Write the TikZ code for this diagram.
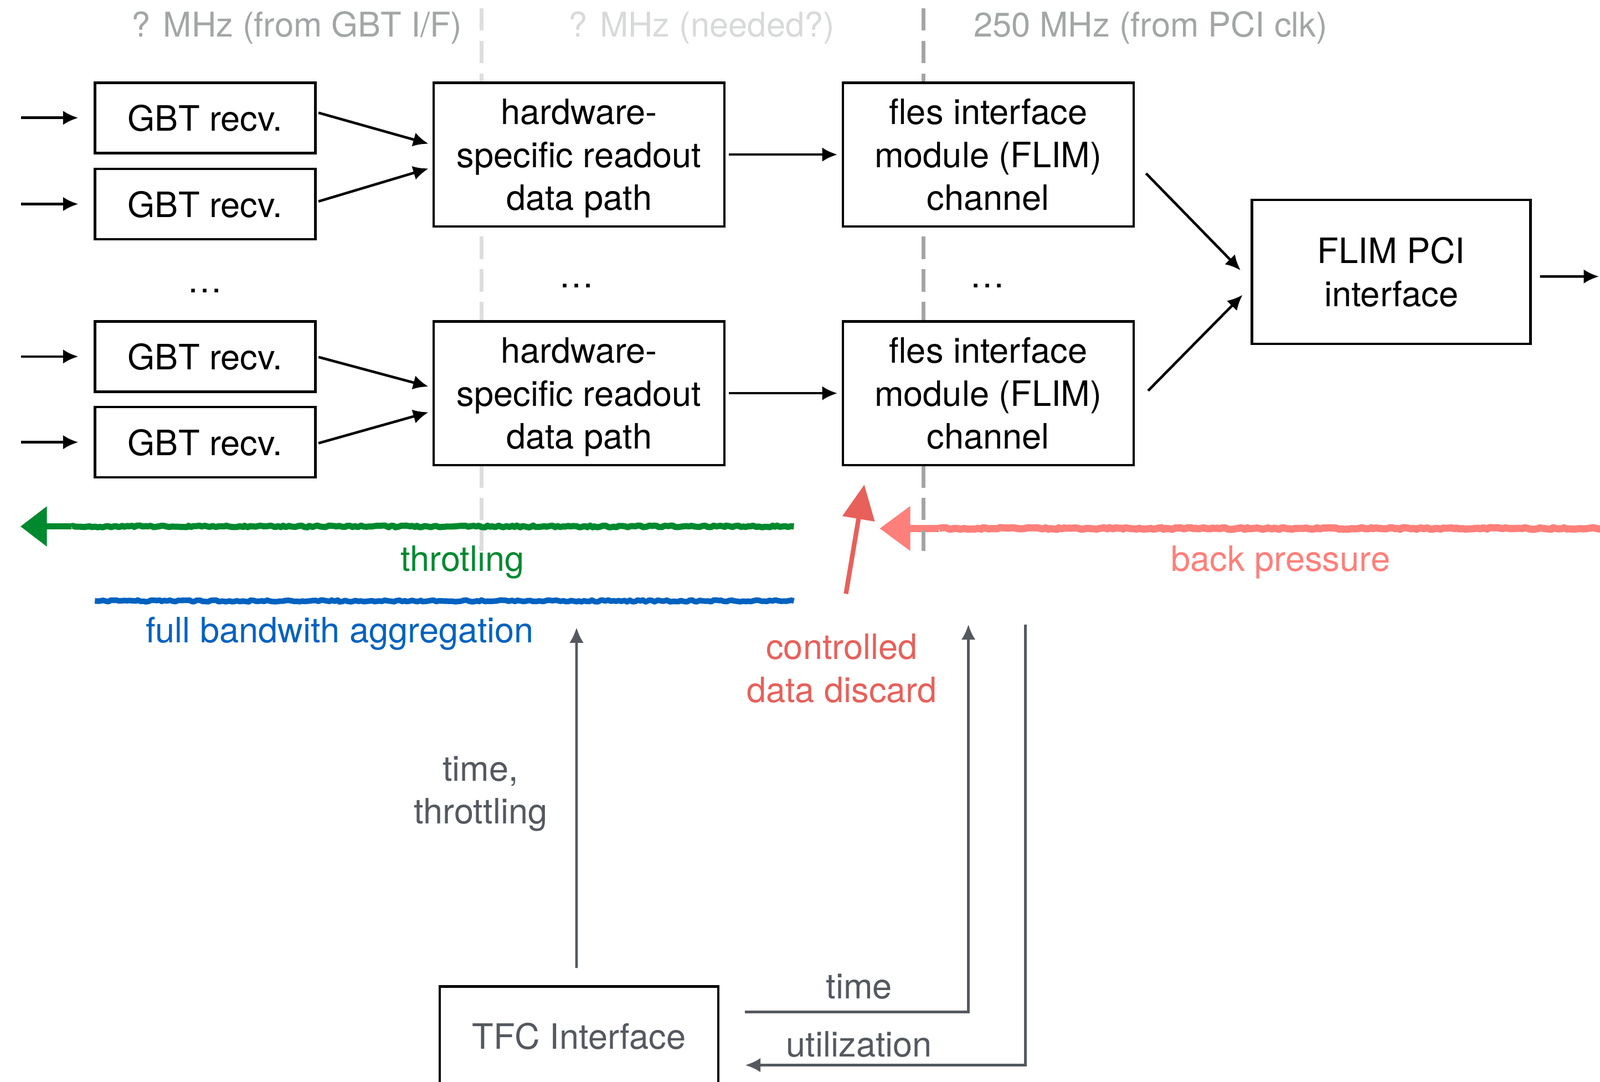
\documentclass[tikz,border=0pt]{standalone}
\usepackage{fontspec}
\setmainfont{TeX Gyre Heros}
\usepackage{tikz}
\usetikzlibrary{arrows,arrows.meta,positioning,decorations.pathmorphing}
\usepackage{xcolor}

\definecolor{clkgray}{RGB}{163,166,166}
\definecolor{clklight}{RGB}{216,218,218}
\definecolor{sepgray}{RGB}{165,165,165}
\definecolor{seplight}{RGB}{222,222,222}
\definecolor{thrgreen}{RGB}{0,137,47}
\definecolor{aggblue}{RGB}{0,98,192}
\definecolor{discred}{RGB}{232,96,90}
\definecolor{bpred}{RGB}{255,127,122}
\definecolor{tfcgray}{RGB}{85,89,95}

\begin{document}
\begin{tikzpicture}[x=0.02cm, y=-0.02cm, node distance = 2cm, auto,
    every node/.style={font=\fontsize{19.5}{23.9}\selectfont}]

    \tikzstyle{block} = [
        rectangle,
        draw,
        fill=white,
        line width=0.05cm,
        align=center,
        inner sep=0pt,
        text depth=-0.08cm,
        minimum width=5.7cm,
        minimum height=2.82cm,
    ]
    \tikzstyle{gbt} = [
        block,
        minimum width=4.32cm,
        minimum height=1.38cm,
    ]
    \tikzstyle{line} = [
        draw,
        line width=0.05cm,
        shorten <=0.04cm,
        shorten >=0.08cm,
        -{Latex[length=0.3cm,width=0.28cm]},
    ]
    \tikzstyle{tfcline} = [
        draw,
        tfcgray,
        line width=0.05cm,
        -{Latex[length=0.3cm,width=0.28cm]},
    ]
    \tikzstyle{clk} = [
        anchor=base,
        font=\fontsize{19}{23}\selectfont,
    ]
    \tikzstyle{clksep} = [
        line width=0.07cm,
        dash pattern=on 0.44cm off 0.2cm,
    ]
    \tikzstyle{crayon} = [
        line join=round,
        decorate,
        decoration={random steps, segment length=1.5pt, amplitude=0.5pt},
    ]
    \tikzstyle{lbl} = [
        anchor=base,
        align=center,
    ]

    \clip (0,0) rectangle (1568,1060);
    \fill[white] (0,0) rectangle (1568,1060);

    % clock domains
    \node[clk, text=clkgray]  (clkgbt)  at (291,36)    {? MHz (from GBT I/F)};
    \node[clk, text=clklight] (clkhw)   at (687.5,36)  {? MHz (needed?)};
    \node[clk, text=clkgray]  (clkpci)  at (1127.5,36) {250 MHz (from PCI clk)};

    % sketched feedback paths
    \coordinate (thrstart) at (778,516);
    \coordinate (thrtail)  at (70,516);
    \coordinate (thrend)   at (20,516);
    \draw[thrgreen, line width=0.12cm, crayon] (thrstart) -- (thrtail);
    \draw[thrgreen, line width=0.12cm, -{Triangle[length=0.52cm,width=0.76cm]}] (thrtail) -- (thrend);
    \node[lbl, text=thrgreen] (thr) at (453,560) {throtling};

    \coordinate (aggstart) at (93,589);
    \coordinate (aggend)   at (778,589);
    \draw[aggblue, line width=0.11cm, crayon] (aggstart) -- (aggend);
    \node[lbl, text=aggblue] (agg) at (333,630) {full bandwith aggregation};

    \coordinate (bpstart) at (1570,518);
    \coordinate (bptail)  at (920,518);
    \coordinate (bpend)   at (862,518);
    \draw[bpred, line width=0.14cm, crayon] (bpstart) -- (bptail);
    \draw[bpred, line width=0.14cm, -{Triangle[length=0.6cm,width=0.84cm]}] (bptail) -- (bpend);
    \node[lbl, text=bpred] (bp) at (1255,560) {back pressure};

    \coordinate (discstart) at (829,582);
    \coordinate (discend)   at (847,475);
    \draw[discred, line width=0.09cm, -{Triangle[length=0.68cm,width=0.62cm]}] (discstart) -- (discend);
    \node[text=discred, align=center] (disc) at (825,655) {controlled\\data discard};

    % clock domain borders
    \draw[clksep, seplight] (472,8) -- (472,540);
    \draw[clksep, sepgray]  (905,8) -- (905,540);

    \node [gbt]                                  (gbta) at (201,115.5) {GBT recv.};
    \node [gbt, below of=gbta, node distance=1.69cm] (gbtb) {GBT recv.};
    \node [gbt, below of=gbtb, node distance=2.99cm] (gbtc) {GBT recv.};
    \node [gbt, below of=gbtc, node distance=1.68cm] (gbtd) {GBT recv.};

    \node [block]                                (hwa) at (567.5,151.5) {hardware-\\specific readout\\data path};
    \node [block, below of=hwa, node distance=4.68cm] (hwb) {hardware-\\specific readout\\data path};

    \node [block, right of=hwa, node distance=8.02cm] (flima) {fles interface\\module (FLIM)\\channel};
    \node [block, right of=hwb, node distance=8.02cm] (flimb) {fles interface\\module (FLIM)\\channel};

    \node [block, minimum width=5.46cm] (pci) at (1363.5,266.5) {FLIM PCI\\interface};

    \node [block, minimum width=5.46cm, minimum height=1.94cm, text depth=0pt, text=tfcgray] (tfc) at (567.5,1015.5) {TFC Interface};

    \node[anchor=base] (dotsgbt)  at (201,287) {\dots};
    \node[anchor=base] (dotshw)   at (565,282) {\dots};
    \node[anchor=base] (dotsflim) at (968,282) {\dots};

    % inputs
    \path [line] ([xshift=-1.46cm]gbta.west) -- ([xshift=-0.22cm]gbta.west);
    \path [line] ([xshift=-1.46cm]gbtb.west) -- ([xshift=-0.22cm]gbtb.west);
    \path [line] ([xshift=-1.46cm]gbtc.west) -- ([xshift=-0.22cm]gbtc.west);
    \path [line] ([xshift=-1.46cm]gbtd.west) -- ([xshift=-0.22cm]gbtd.west);

    \path [line] ([yshift=0.11cm]gbta.east) -- ([yshift=0.19cm]hwa.west);
    \path [line] ([yshift=0.04cm]gbtb.east) -- ([yshift=-0.25cm]hwa.west);
    \path [line] (gbtc.east) -- ([yshift=0.11cm]hwb.west);
    \path [line] ([yshift=-0.03cm]gbtd.east) -- ([yshift=-0.35cm]hwb.west);

    \path [line, shorten <=0.06cm] (hwa) -- (flima);
    \path [line, shorten <=0.06cm] (hwb) -- (flimb);

    \path [line, shorten <=0cm, shorten >=0cm] ([xshift=0.22cm,yshift=-0.37cm]flima.east) -- ([xshift=-0.2cm,yshift=0.03cm]pci.west);
    \path [line, shorten <=0cm, shorten >=0cm] ([xshift=0.26cm,yshift=0.05cm]flimb.east) -- ([xshift=-0.16cm,yshift=-0.45cm]pci.west);

    \coordinate (pciout) at (1567,271);
    \path [line, shorten <=0cm, shorten >=0cm] ([xshift=0.16cm,yshift=-0.09cm]pci.east) -- (pciout);

    % timing and fast control
    \coordinate (tfcup)  at (565,615);
    \coordinate (timeup) at (949,612);
    \coordinate (utilin) at (1005,612);

    \path [tfcline] ([xshift=-0.05cm,yshift=0.34cm]tfc.north) -- (tfcup);
    \node[text=tfcgray, align=center] (tthr) at (471,778) {time,\\throttling};

    \path [tfcline] ([xshift=0.5cm,yshift=0.47cm]tfc.east) -| (timeup);
    \node[lbl, text=tfcgray] (time) at (842,979) {time};

    \path [tfcline] (utilin) |- ([xshift=0.5cm,yshift=-0.57cm]tfc.east);
    \node[lbl, text=tfcgray] (util) at (842,1036) {utilization};

\end{tikzpicture}
\end{document}
